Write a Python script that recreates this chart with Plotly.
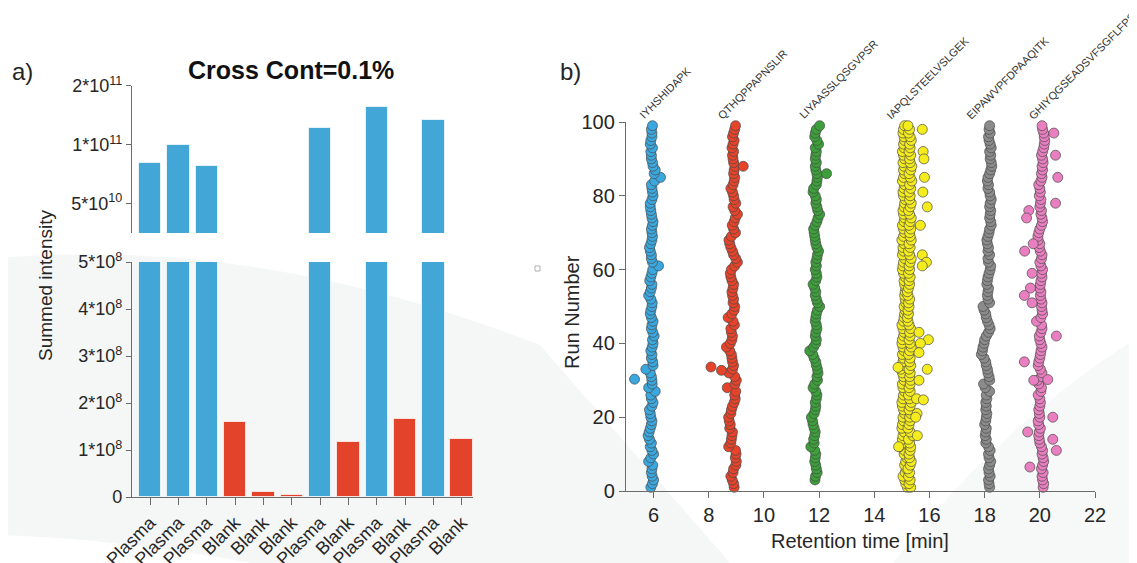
import plotly.graph_objects as go

W, H = 1137, 563
OFFX, OFFY = 8, 8  # page body margin compensation

# ---------------- Panel a) data ----------------
sample_labels = ["Plasma", "Plasma", "Plasma", "Blank", "Blank", "Blank",
                 "Plasma", "Blank", "Plasma", "Blank", "Plasma", "Blank"]
summed_intensity = [8.07e10, 1.00e11, 7.80e10, 1.60e8, 1.1e7, 5.0e6,
                    1.22e11, 1.18e8, 1.57e11, 1.66e8, 1.34e11, 1.23e8]
top_ticks = [5e10, 1e11, 2e11]
top_ticktext = ["5*10<sup>10</sup>", "1*10<sup>11</sup>", "2*10<sup>11</sup>"]
bottom_ticks = [0, 1e8, 2e8, 3e8, 4e8, 5e8]
bottom_ticktext = ["0", "1*10<sup>8</sup>", "2*10<sup>8</sup>", "3*10<sup>8</sup>",
                   "4*10<sup>8</sup>", "5*10<sup>8</sup>"]

# ---------------- Panel b) data ----------------
peptides = ["IYHSHIDAPK", "QTHQPPAPNSLIR", "LIYAASSLQSGVPSR",
            "IAPQLSTEELVSLGEK", "EIPAWVPFDPAAQITK", "GHIYQGSEADSVFSGFLFPSA"]

runs_all = list(range(1, 100))
runs_green = list(range(3, 100))

rt_blue = [5.90, 5.96, 6.00, 5.95, 5.92, 5.94, 5.97, 5.82, 5.90, 6.00,
           5.94, 5.88, 5.92, 5.85, 5.80, 5.84, 5.88, 5.92, 5.94, 5.90,
           5.88, 5.85, 5.94, 5.98, 5.92, 5.90, 6.06, 5.82, 5.95, 5.94,
           5.92, 5.88, 5.72, 5.98, 5.97, 5.92, 5.94, 5.90, 5.95, 5.98,
           5.96, 6.02, 5.97, 5.92, 5.94, 5.98, 5.92, 5.88, 5.90, 5.94,
           5.95, 5.90, 5.82, 5.88, 5.92, 5.94, 5.86, 5.90, 5.94, 5.97,
           6.18, 5.96, 5.92, 5.92, 5.88, 5.85, 5.90, 5.94, 5.96, 5.94,
           5.92, 5.96, 5.98, 5.94, 5.92, 5.90, 5.88, 5.88, 5.94, 5.98,
           5.96, 5.94, 5.92, 6.04, 6.25, 6.02, 6.06, 5.98, 5.96, 5.92,
           5.92, 5.90, 5.96, 5.88, 5.90, 5.94, 5.94, 5.92, 5.96]
out_blue_run = [30.3]
out_blue_rt = [5.31]

rt_red = [8.92, 8.90, 8.85, 8.80, 8.88, 8.90, 8.98, 9.00, 8.96, 8.99,
          8.97, 8.72, 8.80, 8.82, 8.84, 8.86, 8.76, 8.78, 8.74, 8.72,
          8.80, 8.82, 8.86, 8.92, 8.96, 8.94, 8.98, 8.67, 8.95, 9.00,
          8.94, 8.73, 8.86, 8.90, 8.86, 8.84, 8.82, 8.76, 8.64, 8.78,
          8.84, 8.86, 8.82, 8.80, 8.93, 8.88, 8.70, 8.84, 8.92, 8.94,
          8.88, 8.90, 8.86, 8.84, 8.88, 8.90, 8.84, 8.80, 8.78, 8.82,
          8.94, 9.04, 8.98, 8.90, 8.86, 8.80, 8.76, 8.73, 8.82, 8.97,
          8.90, 8.85, 8.92, 8.96, 9.04, 8.94, 8.88, 8.98, 8.92, 8.90,
          8.86, 8.80, 8.88, 8.92, 8.94, 8.90, 8.92, 8.95, 8.90, 8.88,
          8.86, 8.90, 8.84, 8.88, 8.92, 8.86, 8.90, 8.94, 8.97]
out_red_run = [88.0, 33.6, 32.7]
out_red_rt = [9.25, 8.08, 8.46]

rt_green = [11.85, 11.87, 11.93, 11.90, 11.88, 11.84, 11.86, 11.88,
            11.84, 11.70, 11.82, 11.80, 11.84, 11.86, 11.82, 11.78, 11.76, 11.72,
            11.82, 11.86, 11.88, 11.86, 11.90, 11.92, 11.88, 11.78, 11.84, 11.94,
            11.92, 11.96, 11.94, 11.90, 11.88, 11.82, 11.77, 11.66, 11.80, 11.88,
            11.90, 11.86, 11.88, 11.92, 11.90, 11.86, 11.88, 11.90, 11.94, 12.02,
            11.94, 11.90, 11.86, 11.88, 11.84, 11.78, 11.88, 11.92, 11.90, 11.86,
            11.90, 11.88, 11.92, 11.94, 11.98, 11.92, 11.88, 11.86, 11.84, 11.82,
            11.80, 11.86, 11.92, 11.96, 12.02, 11.95, 11.92, 11.88, 11.90, 11.86,
            11.78, 11.80, 11.90, 11.92, 11.94, 11.92, 11.88, 11.86, 11.90, 11.86,
            11.88, 11.90, 11.86, 11.98, 11.92, 11.84, 11.86, 11.90, 12.02]
out_green_run = [86.0]
out_green_rt = [12.27]

rt_yellow_a = [15.20, 15.14, 15.10, 15.04, 15.12, 15.16, 15.10, 15.14, 15.18, 15.08,
               15.10, 14.92, 15.06, 15.02, 15.04, 15.08, 15.00, 15.02, 15.06, 15.04,
               15.10, 15.06, 15.02, 15.00, 15.04, 15.06, 15.10, 15.04, 15.02, 15.08,
               15.06, 15.02, 14.96, 15.00, 15.04, 15.06, 15.02, 15.08, 15.04, 15.00,
               15.02, 15.06, 15.08, 15.04, 15.00, 15.06, 15.08, 15.10, 15.12, 15.08,
               15.14, 15.12, 15.10, 15.12, 15.14, 15.10, 15.08, 15.12, 15.06, 15.02,
               15.04, 15.06, 15.10, 15.02, 15.06, 15.04, 15.08, 15.00, 15.06, 15.10,
               15.06, 15.02, 15.08, 15.10, 15.06, 15.04, 15.08, 15.10, 15.12, 15.06,
               15.04, 15.08, 15.10, 15.02, 15.06, 15.10, 15.06, 15.08, 15.04, 15.10,
               15.06, 15.02, 15.08, 15.06, 15.10, 15.08, 15.04, 15.06, 15.10]
rt_yellow_b = [15.32, 15.26, 15.30, 15.24, 15.28, 15.22, 15.30, 15.34, 15.28, 15.26,
               15.30, 15.32, 15.28, 15.24, 15.40, 15.30, 15.22, 15.26, 15.30, 15.28,
               15.32, 15.26, 15.30, 15.34, 15.28, 15.24, 15.30, 15.26, 15.30, 15.32,
               15.28, 15.30, 15.26, 15.32, 15.28, 15.30, 15.24, 15.28, 15.34, 15.30,
               15.26, 15.30, 15.28, 15.32, 15.26, 15.22, 15.20, 15.24, 15.22, 15.26,
               15.24, 15.28, 15.22, 15.20, 15.24, 15.28, 15.26, 15.30, 15.24, 15.28,
               15.26, 15.30, 15.34, 15.28, 15.24, 15.30, 15.26, 15.34, 15.30, 15.28,
               15.32, 15.26, 15.30, 15.34, 15.28, 15.24, 15.30, 15.34, 15.28, 15.30,
               15.26, 15.32, 15.28, 15.36, 15.30, 15.26, 15.32, 15.36, 15.30, 15.28,
               15.32, 15.26, 15.30, 15.28, 15.34, 15.30, 15.24, 15.28, 15.22]
out_yellow_run = [98, 92, 90, 85, 81, 77, 72, 64, 62, 61, 43, 41, 40, 37.5, 33,
                  30, 25, 24.7, 21, 20, 15, 33.5, 12]
out_yellow_rt = [15.74, 15.77, 15.80, 15.82, 15.76, 15.92, 15.67, 15.74, 15.89, 15.74,
                 15.62, 15.96, 15.67, 15.62, 15.92, 15.62, 15.53, 15.78, 15.55, 15.50,
                 15.56, 14.86, 14.88]

rt_gray = [18.18, 18.16, 18.14, 18.20, 18.16, 18.14, 18.18, 18.22, 18.16, 18.14,
           18.20, 18.14, 18.04, 18.06, 18.02, 18.04, 18.06, 18.00, 18.04, 18.06,
           18.08, 18.04, 18.06, 18.04, 18.08, 18.06, 18.18, 18.02, 17.96, 18.18,
           18.16, 18.12, 18.10, 18.06, 18.04, 17.98, 17.88, 17.92, 17.94, 17.98,
           18.00, 18.06, 18.14, 18.20, 18.16, 18.10, 18.06, 18.04, 17.98, 17.94,
           18.18, 18.12, 18.10, 18.12, 18.14, 18.08, 18.10, 18.12, 18.16, 18.20,
           18.22, 18.14, 18.12, 18.18, 18.12, 18.14, 18.10, 18.08, 18.12, 18.16,
           18.18, 18.24, 18.22, 18.18, 18.20, 18.22, 18.18, 18.20, 18.24, 18.20,
           18.18, 18.12, 18.14, 18.10, 18.12, 18.18, 18.22, 18.26, 18.24, 18.20,
           18.22, 18.18, 18.24, 18.20, 18.16, 18.14, 18.20, 18.16, 18.18]

rt_pink = [20.12, 20.14, 20.10, 20.08, 20.12, 20.06, 20.10, 20.14, 20.12, 20.08,
           20.10, 20.06, 20.00, 19.98, 19.96, 19.98, 20.02, 19.96, 19.94, 20.00,
           19.98, 19.96, 20.00, 20.02, 20.00, 19.94, 20.04, 20.06, 19.96, 19.92,
           20.06, 20.08, 20.02, 19.94, 19.96, 20.00, 20.02, 20.04, 20.08, 20.04,
           20.00, 19.98, 20.04, 20.08, 20.06, 19.88, 20.04, 20.10, 20.08, 20.06,
           20.08, 20.04, 20.02, 20.04, 20.00, 20.02, 20.04, 20.08, 20.06, 20.10,
           20.04, 20.00, 20.06, 20.08, 20.02, 19.98, 20.00, 19.94, 19.93, 19.96,
           20.00, 20.06, 20.10, 20.08, 20.04, 20.06, 20.00, 20.02, 20.04, 19.98,
           20.02, 20.00, 19.96, 20.04, 20.08, 20.06, 20.10, 20.08, 20.12, 20.10,
           20.06, 20.10, 20.14, 20.16, 20.18, 20.16, 20.14, 20.10, 20.08]
out_pink_run = [97, 91, 85, 78, 76, 74, 67, 65, 59, 55, 53, 51, 42, 35, 30, 30.2,
                20, 16, 14, 11, 6.5]
out_pink_rt = [20.51, 20.57, 20.65, 20.57, 19.60, 19.52, 19.76, 19.45, 19.72, 19.66,
               19.44, 19.72, 20.60, 19.44, 19.78, 20.29, 20.47, 19.56, 20.47, 20.60, 19.64]

# ---------------- helpers (pixel -> paper) ----------------
def fx(px):
    return (px - OFFX) / W


def fy(py):
    return 1 - (py - OFFY) / H


BLUE_BAR = "#42a7d7"
RED_BAR = "#e2432a"
AXC = "#6b6b6b"
TXT = "#262626"
FONT = "Liberation Sans, Arial, sans-serif"

fig = go.Figure()

bar_colors = [BLUE_BAR if s == "Plasma" else RED_BAR for s in sample_labels]
xpos = list(range(len(sample_labels)))

# bottom (linear) segment
fig.add_trace(go.Bar(x=xpos, y=summed_intensity, marker_color=bar_colors,
                     marker_line=dict(color="rgba(255,255,255,0.7)", width=1),
                     width=0.79, xaxis="x", yaxis="y", showlegend=False))
# top (log) segment
fig.add_trace(go.Bar(x=xpos, y=summed_intensity, marker_color=bar_colors,
                     marker_line=dict(color="rgba(255,255,255,0.7)", width=1),
                     width=0.79, xaxis="x2", yaxis="y2", showlegend=False))

# scatter panel
series = [
    (runs_all + out_blue_run, rt_blue + out_blue_rt, "#3aa7de"),
    (runs_all + out_red_run, rt_red + out_red_rt, "#e5432a"),
    (runs_green + out_green_run, rt_green + out_green_rt, "#3c9f3a"),
    (runs_all + runs_all + out_yellow_run, rt_yellow_a + rt_yellow_b + out_yellow_rt, "#f5ec1d"),
    (runs_all, rt_gray, "#8b8b8b"),
    (runs_all + out_pink_run, rt_pink + out_pink_rt, "#e97ec0"),
]
for (yy, xx, col), name in zip(series, peptides):
    fig.add_trace(go.Scatter(x=xx, y=yy, mode="markers", name=name,
                             marker=dict(size=10, color=col,
                                         line=dict(color="#4a4a4a", width=0.7)),
                             xaxis="x3", yaxis="y3", cliponaxis=False,
                             showlegend=False))

common_axis = dict(showline=True, linecolor=AXC, linewidth=1.3, ticks="outside",
                   tickcolor=AXC, tickwidth=1.3, showgrid=False, zeroline=False,
                   automargin=False,
                   tickfont=dict(family=FONT, size=18, color=TXT))

fig.update_layout(
    width=W, height=H, autosize=False,
    margin=dict(l=0, r=0, t=0, b=0, pad=0),
    paper_bgcolor="white", plot_bgcolor="rgba(0,0,0,0)",
    font=dict(family=FONT, color=TXT),
    bargap=0,
    xaxis=dict(common_axis, domain=[fx(132), fx(473)], range=[-0.64, 11.4],
               tickvals=xpos, ticktext=sample_labels, tickangle=-45, ticklen=7,
               anchor="y"),
    yaxis=dict(common_axis, domain=[fy(497), fy(262)], range=[0, 5e8],
               tickvals=bottom_ticks, ticktext=bottom_ticktext, ticklen=5,
               anchor="x"),
    xaxis2=dict(domain=[fx(132), fx(473)], range=[-0.64, 11.4], visible=False,
                automargin=False, anchor="y2"),
    yaxis2=dict(common_axis, type="log", domain=[fy(233), fy(86)],
                range=[10.548, 11.301], tickvals=top_ticks, ticktext=top_ticktext,
                ticklen=5, anchor="x2"),
    xaxis3=dict(common_axis, domain=[fx(626), fx(1095)], range=[5, 22],
                tickvals=[6, 8, 10, 12, 14, 16, 18, 20, 22], ticklen=6, anchor="y3",
                tickfont=dict(family=FONT, size=20, color=TXT)),
    yaxis3=dict(common_axis, domain=[fy(491), fy(122)], range=[0, 100],
                tickvals=[0, 20, 40, 60, 80, 100], ticklen=6, anchor="x3",
                tickfont=dict(family=FONT, size=20, color=TXT)),
)

ann = []
ann.append(dict(text="a)", x=fx(10), y=fy(72), xref="paper", yref="paper",
                xanchor="left", yanchor="middle", showarrow=False,
                font=dict(family=FONT, size=24, color=TXT)))
ann.append(dict(text="b)", x=fx(558), y=fy(72), xref="paper", yref="paper",
                xanchor="left", yanchor="middle", showarrow=False,
                font=dict(family=FONT, size=24, color=TXT)))
ann.append(dict(text="<b>Cross Cont=0.1%</b>", x=fx(291), y=fy(70), xref="paper",
                yref="paper", xanchor="center", yanchor="middle", showarrow=False,
                font=dict(family=FONT, size=25, color="#111")))
ann.append(dict(text="Summed intensity", x=fx(46), y=fy(285), xref="paper",
                yref="paper", xanchor="center", yanchor="middle", textangle=-90,
                showarrow=False, font=dict(family=FONT, size=19, color=TXT)))
ann.append(dict(text="Run Number", x=fx(572), y=fy(312), xref="paper",
                yref="paper", xanchor="center", yanchor="middle", textangle=-90,
                showarrow=False, font=dict(family=FONT, size=20, color=TXT)))
ann.append(dict(text="Retention time [min]", x=fx(860), y=fy(541), xref="paper",
                yref="paper", xanchor="center", yanchor="middle",
                showarrow=False, font=dict(family=FONT, size=20, color=TXT)))

label_x = [5.3, 8.15, 11.1, 14.25, 17.15, 19.42]
for name, lx in zip(peptides, label_x):
    ann.append(dict(text=name, x=lx, y=100, xref="x3", yref="y3",
                    xanchor="left", yanchor="bottom", textangle=-45, yshift=-2,
                    showarrow=False, font=dict(family=FONT, size=11, color="#333")))
fig.update_layout(annotations=ann)


def path(points_cmds):
    out = []
    for cmd, pts in points_cmds:
        coords = " ".join(f"{fx(px):.4f},{fy(py):.4f}" for px, py in pts)
        out.append(f"{cmd} {coords}")
    return " ".join(out) + " Z"


shapes = [
    dict(type="path", xref="paper", yref="paper", layer="below",
         fillcolor="#f5f7f7", line=dict(width=0),
         path=path([("M", [(0, 258)]), ("Q", [(260, 236), (540, 345)]),
                    ("L", [(745, 580)]), ("L", [(340, 580)]),
                    ("Q", [(150, 540), (0, 535)])])),
    dict(type="path", xref="paper", yref="paper", layer="below",
         fillcolor="#f7f8f8", line=dict(width=0),
         path=path([("M", [(880, 580)]), ("Q", [(1000, 420), (1150, 330)]),
                    ("L", [(1150, 580)])])),
    dict(type="rect", xref="paper", yref="paper", x0=fx(535), x1=fx(540),
         y0=fy(271), y1=fy(266), line=dict(color="#b0b0b0", width=1)),
]
fig.update_layout(shapes=shapes)

fig.write_html("out.html")
